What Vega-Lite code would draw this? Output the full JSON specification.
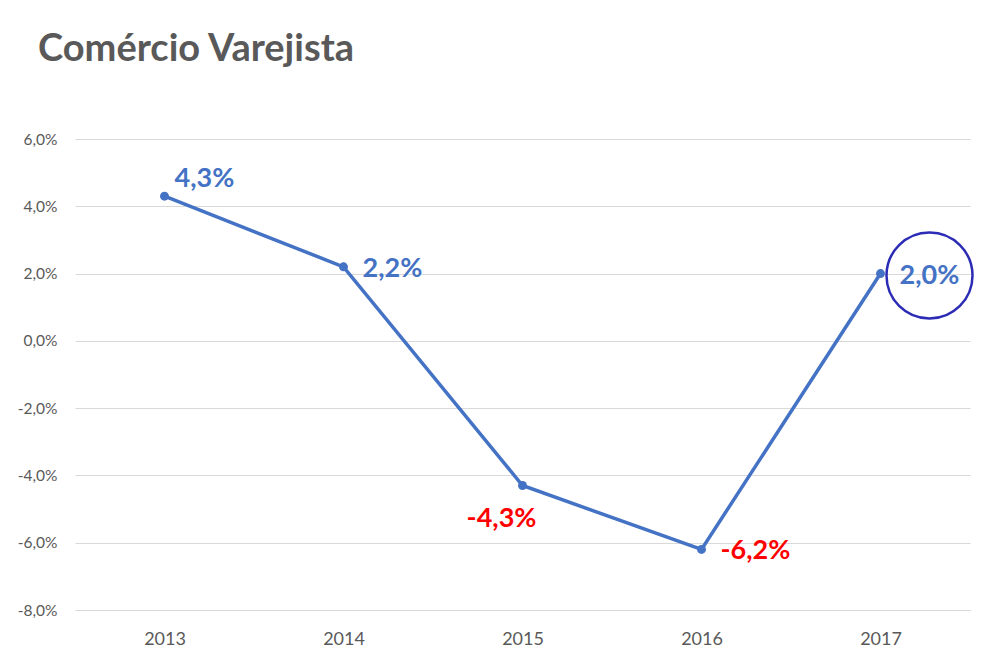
{
  "$schema": "https://vega.github.io/schema/vega-lite/v6.json",
  "width": 895,
  "height": 471,
  "autosize": {"type": "none"},
  "padding": {"left": 75, "top": 139, "right": 13, "bottom": 47},
  "background": "white",
  "config": {"view": {"stroke": null}, "font": "Lato"},
  "title": {
    "text": "Comércio Varejista",
    "anchor": "start",
    "frame": "group",
    "baseline": "alphabetic",
    "offset": 33,
    "dx": -37,
    "font": "Lato",
    "fontSize": 38,
    "fontWeight": "bold",
    "color": "#595959"
  },
  "data": {
    "values": [
      {"ano": "2013", "v": 4.3},
      {"ano": "2014", "v": 2.2},
      {"ano": "2015", "v": -4.3},
      {"ano": "2016", "v": -6.2},
      {"ano": "2017", "v": 2.0}
    ]
  },
  "transform": [
    {"calculate": "replace(replace(format(datum.v, '.1f'), '.', ','), '−', '-') + '%'", "as": "label"}
  ],
  "encoding": {
    "x": {
      "field": "ano", "type": "ordinal",
      "scale": {"type": "point", "padding": 0.5},
      "axis": {
        "title": null, "labelAngle": 0, "ticks": false,
        "domainColor": "#d9d9d9", "domainWidth": 1,
        "labelColor": "#595959", "labelFontSize": 18, "labelFont": "Lato",
        "labelPadding": 20, "grid": false
      }
    },
    "y": {
      "field": "v", "type": "quantitative",
      "scale": {"domain": [-8, 6], "nice": false},
      "axis": {
        "title": null, "values": [-8, -6, -4, -2, 0, 2, 4, 6],
        "labelExpr": "replace(replace(format(datum.value, '.1f'), '.', ','), '−', '-') + '%'",
        "domain": false, "ticks": false, "grid": true,
        "gridColor": "#d9d9d9", "gridWidth": 1,
        "labelColor": "#595959", "labelFontSize": 15.5, "labelFont": "Lato",
        "labelPadding": 18
      }
    }
  },
  "layer": [
    {"mark": {"type": "line", "color": "#4472C4", "strokeWidth": 3.5}},
    {"mark": {"type": "point", "filled": true, "color": "#4472C4", "size": 80, "opacity": 1}},
    {
      "transform": [{"filter": "datum.ano == '2013'"}],
      "mark": {"type": "text", "align": "left", "baseline": "middle", "dx": 10, "dy": -17, "fontSize": 27, "fontWeight": "bold", "font": "Lato"},
      "encoding": {"text": {"field": "label"}, "color": {"value": "#4472C4"}}
    },
    {
      "transform": [{"filter": "datum.ano == '2014' || datum.ano == '2016' || datum.ano == '2017'"}],
      "mark": {"type": "text", "align": "left", "baseline": "middle", "dx": 19, "dy": 2, "fontSize": 27, "fontWeight": "bold", "font": "Lato"},
      "encoding": {"text": {"field": "label"}, "color": {"condition": {"test": "datum.v < 0", "value": "#FF0000"}, "value": "#4472C4"}}
    },
    {
      "transform": [{"filter": "datum.ano == '2015'"}],
      "mark": {"type": "text", "align": "center", "baseline": "middle", "dx": -21, "dy": 33, "fontSize": 27, "fontWeight": "bold", "font": "Lato"},
      "encoding": {"text": {"field": "label"}, "color": {"value": "#FF0000"}}
    },
    {
      "transform": [{"filter": "datum.ano == '2017'"}],
      "mark": {"type": "point", "shape": "circle", "filled": false, "size": 7396, "xOffset": 49, "yOffset": 2, "color": "#2B2BB5", "strokeWidth": 2.5, "opacity": 1}
    }
  ]
}
